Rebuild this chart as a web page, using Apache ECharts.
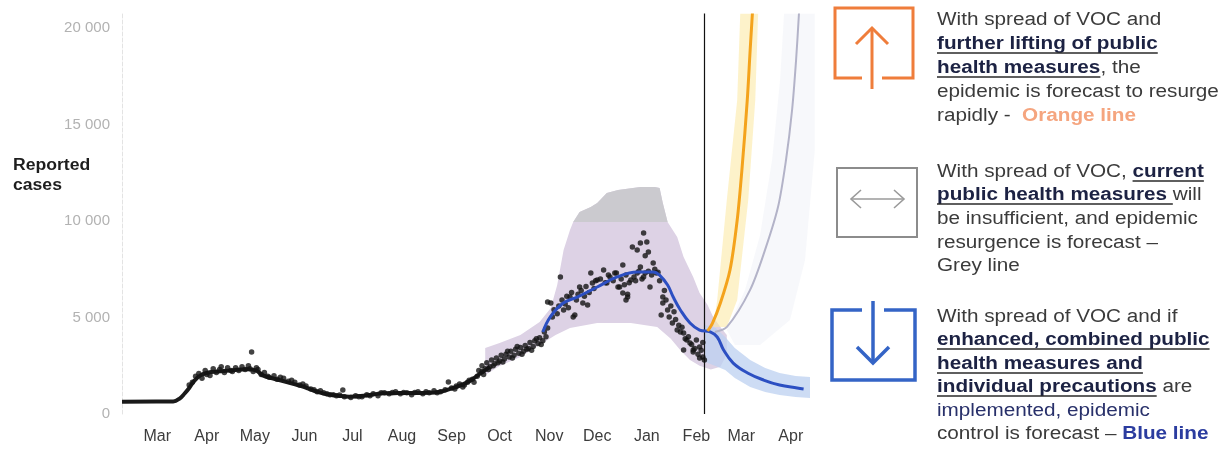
<!DOCTYPE html>
<html><head><meta charset="utf-8">
<script src="https://cdn.jsdelivr.net/npm/echarts@6/dist/echarts.min.js"></script>
<style>html,body{margin:0;padding:0;background:#fff;}#c{width:1226px;height:457px;}</style>
</head><body><div id="c"></div>
<script>
// ---------- DATA (x = days since 1 March 2020, y = reported cases) ----------
const monthDays = [0,31,61,92,122,153,184,214,245,275,306,337,365,396];
const monthLabels = ['Mar','Apr','May','Jun','Jul','Aug','Sep','Oct','Nov','Dec','Jan','Feb','Mar','Apr'];
const yTicks = [0,5000,10000,15000,20000];
const yTickLabels = ['0','5 000','10 000','15 000','20 000'];
const forecastStartDay = 342;

// smoothed observed curve (thick black line)
const trendDays  = [-22,10,14,17,20,23,27,32,38,45,52,57,62,66,72,78,85,92,99,106,113,120,127,134,141,148,155,162,169,176,183,190,196,202,208];
const trendCases = [640,650,800,1050,1350,1700,2000,2150,2200,2250,2300,2320,2250,2000,1850,1720,1560,1400,1180,1020,950,900,930,1000,1070,1080,1090,1090,1100,1140,1300,1500,1750,2100,2450];

// daily reported cases (dots)
const dotPoints = [
 [20,1500],[22,1650],[24,1950],[26,2100],[28,1850],[30,2250],[31,2050],[33,2000],[35,2350],[37,2150],[39,2300],[40,2450],[42,2150],[44,2400],[46,2250],[47,2200],[49,2400],[51,2250],[53,2450],[55,2300],[57,2500],[58,2350],[59,3210],[60,2200],[62,2400],[63,2300],[65,2050],[67,2150],[69,1950],[70,1900],[73,1980],[75,1800],[77,1900],[79,1850],[82,1700],[84,1750],[86,1650],[89,1500],[91,1550],[93,1450],[96,1300],[98,1250],[100,1150],[102,1200],[104,1100],[106,1050],[108,1000],[110,1000],[112,950],[114,980],[116,1240],[117,900],[121,850],[124,950],[126,900],[128,900],[131,1000],[133,950],[135,1050],[138,950],[140,1100],[142,1100],[145,1050],[147,1120],[149,1150],[152,1050],[154,1120],[156,1100],[159,1000],[161,1120],[163,1150],[166,1050],[168,1150],[170,1100],[173,1200],[175,1100],[177,1150],[180,1250],[182,1660],[184,1350],[186,1300],[187,1450],[189,1550],[191,1400],[192,1500],[194,1650],[195,1750],[197,1800],[198,1650],[200,1950],[201,2250],
 [203,2200],[203,2500],[204,2050],[205,2350],[206,2650],[207,2300],[208,2450],[209,2800],[210,2500],[211,2600],[212,2900],[213,2650],[214,2750],[215,3050],[216,2700],[217,2850],[218,3100],[219,3250],[220,2950],[221,3250],[222,2900],[223,3050],[224,3350],[225,3500],[226,3150],[227,3450],[228,3100],[229,3250],[230,3550],[231,3350],[232,3400],[233,3700],[234,3300],[235,3500],[236,3800],[237,3900],[238,3650],[239,3950],[240,3600],[241,3800],[242,4250],[243,4000],[244,4450],
 [244,5800],[246,5750],[247,5025],[248,5400],[250,5200],[251,5600],[252,7100],[253,5900],[254,5390],[255,5700],[256,6100],[257,5500],[258,6060],[259,6300],[260,5025],[261,5130],[262,5900],[263,6200],[264,6580],[265,6400],[266,5750],[267,6100],[268,6600],[269,5650],[270,6300],[271,7300],[272,6790],[273,6500],[274,6900],[275,6940],
 [277,7000],[279,7460],[280,6800],[281,6790],[282,7200],[283,7100],[285,6900],[286,7300],[287,7300],[288,6580],[289,6580],[290,7000],[291,6270],[291,7720],[292,6700],[293,7200],[293,5900],[294,6060],[294,6200],[295,6800],[296,6940],[297,8650],[298,7100],[299,6900],[300,7300],[300,8500],[301,7400],[302,7620],[302,8860],[303,7000],[304,7100],[304,9380],[305,7300],[305,8200],[306,8910],[307,8390],
 [307,7400],[308,6580],[309,7200],[310,7820],[311,7500],[312,7300],[313,7350],[314,6900],[315,5130],[316,6060],[316,5750],[317,6400],[318,5900],[319,5390],[320,5025],[321,5600],[322,4715],[323,5300],[324,4900],[325,4350],[326,4600],[327,4250],[328,4500],[329,4200],[329,3316],[330,3900],[331,3830],[332,4000],[333,3680],[334,3600],[335,3316],[335,3210],[336,3400],[337,3830],[338,3100],[339,3470],[339,2900],[340,3300],[341,2950],[341,3700],[342,2800]
];

// model fit and "enhanced measures" forecast (blue line)
const fitDays  = [241,245.6,253.8,262.5,275,287.5,300,310,314,319,322.5,327,333,339,345.6,350,354,360,369,379,389,400,404];
const fitCases = [4250,5025,5750,6060,6580,7100,7360,7360,7200,6680,6060,5390,4715,4350,4250,3990,3316,2640,2125,1760,1500,1350,1300];

// "further lifting" forecast (orange line)
const orangeDays  = [344,347,352,358,362.5,365.6,368.8,370.6,372];
const orangeCases = [4300,4700,5750,7460,10050,12800,16270,18860,20750];

// "current measures" forecast (grey line)
const greyDays  = [348.6,356.1,370.5,379.9,388,393,396.8,399.3,401.1];
const greyCases = [4250,4510,6420,8500,10720,13160,15750,18340,20750];

// uncertainty bands (outline points, clockwise)
const fitBandDays  = [205,214,227,239,246,250,254,258,260,264,271,275,281,288,302,311,314,316,319,325,329,335,339,344,347.5,352,356,356,352,346,339,333,327,321,312.5,296,275,258,249,239,227,214,205];
const fitBandCases = [3420,3680,4090,4770,5490,6680,8500,9530,9950,10470,10720,10930,11450,11600,11760,11760,11710,10930,9950,9170,8130,7100,6270,5650,5025,4510,4090,3100,2450,2300,2500,2800,3300,3900,4510,4715,4715,4455,4090,3575,2950,2490,2020];
const fitCapDays  = [260,264,271,275,281,288,302,311,314,316,319];
const fitCapCases = [9950,10470,10720,10930,11450,11600,11760,11760,11710,10930,9950];
const blueBandDays  = [342.5,349,355,361,370.6,380,389,399,408,408,399,389,380,370.6,361,355,349,342.5];
const blueBandCases = [4610,4455,3990,3420,2800,2380,2125,1970,1920,830,880,984,1140,1400,1865,2280,2490,2690];
const orangeBandDays  = [347.5,350,356,362.5,364.4,375.6,373.8,369.4,362.5,356];
const orangeBandCases = [4510,5900,11090,16270,20750,20750,16270,11090,5900,4510];
const greyBandDays  = [356,367.4,376.8,384.3,389.3,391.8,411,411,404.9,395.5,376.8,361.1];
const greyBandCases = [4350,6420,9270,13160,17300,20750,20750,13680,7980,4870,3575,3575];

// ---------- CHART ----------
const FONT = '"Liberation Sans", Arial, Helvetica, sans-serif';
const zip = (a, b) => a.map((v, i) => [v, b[i]]);

function band(days, cases, color, opacity, z) {
  const pts = zip(days, cases);
  return {
    type: 'custom', z: z, silent: true, clip: true, animation: false,
    data: pts, encode: { x: 0, y: 1 },
    renderItem: function (params, api) {
      if (params.dataIndex !== 0) return null;
      return { type: 'polygon', shape: { points: pts.map(p => api.coord(p)) },
               style: { fill: color, opacity: opacity } };
    }
  };
}

const chart = echarts.init(document.getElementById('c'), null, { renderer: 'canvas' });

// right-hand explanatory text
const SX = 1.15;
const mctx = document.createElement('canvas').getContext('2d');
function textW(t, weight, size) { mctx.font = weight + ' ' + size + 'px ' + FONT; return mctx.measureText(t).width * SX; }
const STY = {
  n: { w: 'normal', c: '#3b3b3b', u: false },
  b: { w: 'bold',   c: '#1c2243', u: true },
  o: { w: 'bold',   c: '#f5a57f', u: false },
  v: { w: 'normal', c: '#28306a', u: false },
  l: { w: 'bold',   c: '#2b3c9f', u: false }
};
const panelText = [
  [20, [['With spread of VOC and', 'n']]],
  [44, [['further lifting of public', 'b']]],
  [68, [['health measures', 'b'], [', the', 'n']]],
  [92, [['epidemic is forecast to resurge', 'n']]],
  [116, [['rapidly -  ', 'n'], ['Orange line', 'o']]],
  [172, [['With spread of VOC, ', 'n'], ['current', 'b']]],
  [195, [['public health measures ', 'b'], ['will', 'n']]],
  [219, [['be insufficient, and epidemic', 'n']]],
  [243, [['resurgence is forecast \u2013', 'n']]],
  [266, [['Grey line', 'n']]],
  [317, [['With spread of VOC and if', 'n']]],
  [340, [['enhanced, combined public', 'b']]],
  [364, [['health measures and', 'b']]],
  [387, [['individual precautions', 'b'], [' are', 'n']]],
  [411, [['implemented, epidemic', 'v']]],
  [434, [['control is forecast \u2013 ', 'n'], ['Blue line', 'l']]]
];
const graphic = [];
const FS = 18;
panelText.forEach(([y, segs]) => {
  let x = 937;
  segs.forEach(([t, k]) => {
    const s = STY[k];
    graphic.push({ type: 'text', x: x, y: y, scaleX: SX, silent: true,
      style: { text: t, fontSize: FS, fontWeight: s.w, fontFamily: FONT, fill: s.c, align: 'left', verticalAlign: 'middle' } });
    const w = textW(t, s.w, FS);
    if (s.u) graphic.push({ type: 'line', silent: true, shape: { x1: x, y1: y + 9, x2: x + w, y2: y + 9 }, style: { stroke: '#2a2a2a', lineWidth: 1.3 } });
    x += w;
  });
});
// y axis title
graphic.push({ type: 'text', x: 13, y: 166, scaleX: 1.1, silent: true, style: { text: 'Reported', fontSize: 16, fontWeight: 'bold', fontFamily: FONT, fill: '#1e1e1e', verticalAlign: 'middle' } });
graphic.push({ type: 'text', x: 13, y: 186, scaleX: 1.1, silent: true, style: { text: 'cases', fontSize: 16, fontWeight: 'bold', fontFamily: FONT, fill: '#1e1e1e', verticalAlign: 'middle' } });
// icons
const ln = (pts, color, w) => ({ type: 'polyline', silent: true, shape: { points: pts }, style: { stroke: color, lineWidth: w, fill: null, lineCap: 'butt', lineJoin: 'miter' } });
const OR = '#ef7d3b', GR = '#8c8c8c', BL = '#3464c6';
graphic.push(ln([[862, 78], [835, 78], [835, 8], [913, 8], [913, 78], [882, 78]], OR, 3));
graphic.push(ln([[872, 89], [872, 28]], OR, 3));
graphic.push(ln([[856, 44], [872, 28], [888, 44]], OR, 3));
graphic.push({ type: 'rect', silent: true, shape: { x: 837, y: 168, width: 80, height: 69 }, style: { stroke: GR, lineWidth: 2, fill: null } });
graphic.push(ln([[851, 199], [904, 199]], '#9a9a9a', 1.6));
graphic.push(ln([[861, 190], [851, 199], [861, 208]], '#9a9a9a', 1.6));
graphic.push(ln([[894, 190], [904, 199], [894, 208]], '#9a9a9a', 1.6));
graphic.push(ln([[862, 310], [832, 310], [832, 380], [915, 380], [915, 310], [884, 310]], BL, 3.5));
graphic.push(ln([[873, 301], [873, 363]], BL, 3.5));
graphic.push(ln([[857, 347], [873, 363], [889, 347]], BL, 3.5));

chart.setOption({
  animation: false,
  backgroundColor: '#ffffff',
  textStyle: { fontFamily: FONT },
  grid: { left: 122, right: 409.6, top: 13.5, bottom: 43, containLabel: false, outerBoundsMode: 'none' },
  xAxis: {
    type: 'value', min: -22, max: 412,
    splitLine: { show: false }, axisLine: { show: false }, axisTick: { show: false },
    axisLabel: { customValues: monthDays, formatter: v => monthLabels[monthDays.indexOf(v)],
                 color: '#3c3c3c', fontSize: 16, fontFamily: FONT, margin: 15 }
  },
  yAxis: {
    type: 'value', min: 0, max: 20750,
    splitLine: { show: false },
    axisLine: { show: true, onZero: false, lineStyle: { color: '#e3e3e3', type: 'dashed', width: 1 } },
    axisTick: { show: false },
    axisLabel: { customValues: yTicks, formatter: v => yTickLabels[yTicks.indexOf(v)],
                 color: '#b2b2b2', fontSize: 15, fontFamily: FONT, margin: 12 }
  },
  graphic: graphic,
  series: [
    band(fitBandDays, fitBandCases, '#ddd2e5', 1, 1),
    band(fitCapDays, fitCapCases, '#cbcacf', 1, 1),
    band(greyBandDays, greyBandCases, '#e8eaf3', 0.35, 1),
    band(blueBandDays, blueBandCases, '#bcd0f0', 0.75, 1),
    band(orangeBandDays, orangeBandCases, '#fbeaa6', 0.6, 1),
    { type: 'line', z: 3, data: zip(trendDays, trendCases), smooth: 0.4, showSymbol: false, silent: true,
      lineStyle: { color: '#1a1a1a', width: 4 } },
    { type: 'scatter', z: 4, data: dotPoints, symbolSize: 5.5, silent: true,
      itemStyle: { color: '#141414' },
      markLine: { silent: true, symbol: 'none', label: { show: false }, animation: false,
                  lineStyle: { color: '#111111', width: 1.2, type: 'solid' },
                  data: [{ xAxis: forecastStartDay }] } },
    { type: 'line', z: 5, data: zip(fitDays, fitCases), smooth: 0.4, showSymbol: false, silent: true,
      lineStyle: { color: '#2c4fc2', width: 3 } },
    { type: 'line', z: 5, data: zip(greyDays, greyCases), smooth: 0.3, showSymbol: false, silent: true,
      lineStyle: { color: '#b3b3c8', width: 2 } },
    { type: 'line', z: 6, data: zip(orangeDays, orangeCases), smooth: 0.3, showSymbol: false, silent: true,
      lineStyle: { color: '#f4a31c', width: 3 } }
  ]
});
</script></body></html>
